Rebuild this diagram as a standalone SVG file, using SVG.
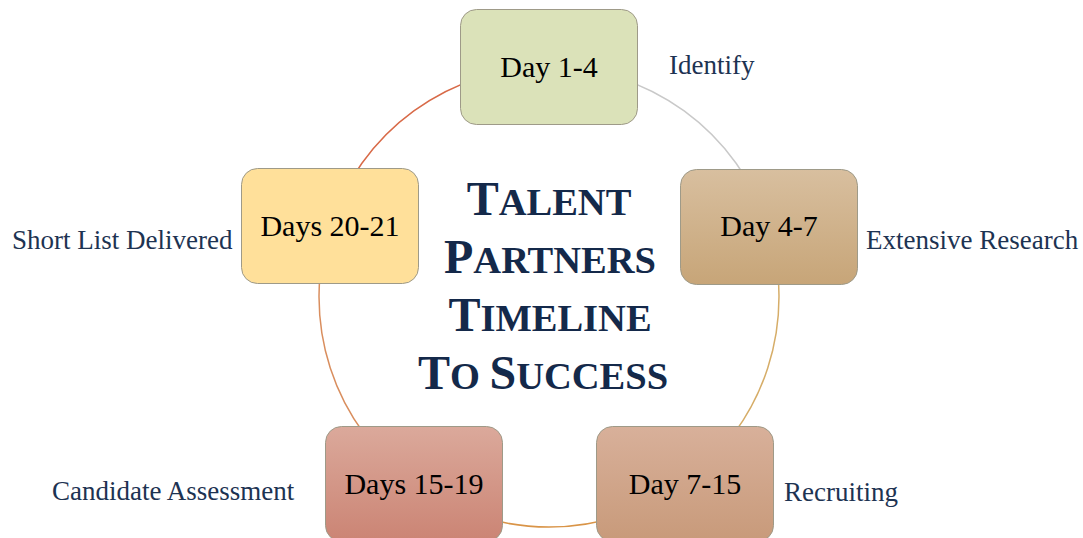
<svg xmlns="http://www.w3.org/2000/svg" width="1083" height="538" viewBox="0 0 1083 538">
<defs>
<style>
.box{stroke:#9e9a88;stroke-width:1}
.lbl{font-family:"Liberation Serif",serif;font-size:27px;fill:#1d3352}
.day{font-family:"Liberation Serif",serif;font-size:30px;fill:#000;text-anchor:middle}
.ttl{font-family:"Liberation Serif",serif;font-weight:bold;fill:#14294a;text-anchor:middle}
.big{font-size:48px}
.sm{font-size:38.5px}
.arc{fill:none;stroke-width:1.5}
</style>
<linearGradient id="g47" x1="0" y1="0" x2="0" y2="1"><stop offset="0" stop-color="#d8bf9f"/><stop offset="1" stop-color="#c7a578"/></linearGradient>
<linearGradient id="g715" x1="0" y1="0" x2="0" y2="1"><stop offset="0" stop-color="#d8b09a"/><stop offset="1" stop-color="#c89a7a"/></linearGradient>
<linearGradient id="g1519" x1="0" y1="0" x2="0" y2="1"><stop offset="0" stop-color="#dba99b"/><stop offset="1" stop-color="#cb8474"/></linearGradient>
</defs>
<rect width="1083" height="538" fill="#fff"/>
<g id="connectors">
<path class="arc" stroke="#c9c9c9" d="M549,67 A230,230 0 0 1 767.7,225.9"/>
<path class="arc" stroke="#d6ad68" d="M767.7,225.9 A230,230 0 0 1 684.2,483.1"/>
<path class="arc" stroke="#d99447" d="M684.2,483.1 A230,230 0 0 1 413.8,483.1"/>
<path class="arc" stroke="#d98e5e" d="M413.8,483.1 A230,230 0 0 1 330.3,225.9"/>
<path class="arc" stroke="#d86a48" d="M330.3,225.9 A230,230 0 0 1 549,67"/>
</g>
<g id="title">
<text class="ttl" x="549" y="215"><tspan class="big">T</tspan><tspan class="sm">ALENT</tspan></text>
<text class="ttl" x="550" y="273"><tspan class="big">P</tspan><tspan class="sm">ARTNERS</tspan></text>
<text class="ttl" x="550" y="331"><tspan class="big">T</tspan><tspan class="sm">IMELINE</tspan></text>
<text class="ttl" x="543" y="389"><tspan class="big">T</tspan><tspan class="sm">O </tspan><tspan class="big">S</tspan><tspan class="sm">UCCESS</tspan></text>
</g>
<g id="n1">
<rect class="box" x="460.5" y="9.5" width="177" height="115" rx="16" fill="#dbe2b9"/>
<text class="day" x="549" y="77">Day 1-4</text>
<text class="lbl" x="669" y="74">Identify</text>
</g>
<g id="n2">
<rect class="box" x="680.5" y="169.5" width="177" height="115" rx="16" fill="url(#g47)"/>
<text class="day" x="769" y="236">Day 4-7</text>
<text class="lbl" x="866" y="249">Extensive Research</text>
</g>
<g id="n3">
<rect class="box" x="596.5" y="426.5" width="177" height="115" rx="16" fill="url(#g715)"/>
<text class="day" x="685" y="494">Day 7-15</text>
<text class="lbl" x="784" y="501">Recruiting</text>
</g>
<g id="n4">
<rect class="box" x="325.5" y="426.5" width="177" height="115" rx="16" fill="url(#g1519)"/>
<text class="day" x="414" y="494">Days 15-19</text>
<text class="lbl" x="52" y="500">Candidate Assessment</text>
</g>
<g id="n5">
<rect class="box" x="241.5" y="168.5" width="177" height="115" rx="16" fill="#ffe09a"/>
<text class="day" x="330" y="236">Days 20-21</text>
<text class="lbl" x="12" y="249">Short List Delivered</text>
</g>
</svg>
